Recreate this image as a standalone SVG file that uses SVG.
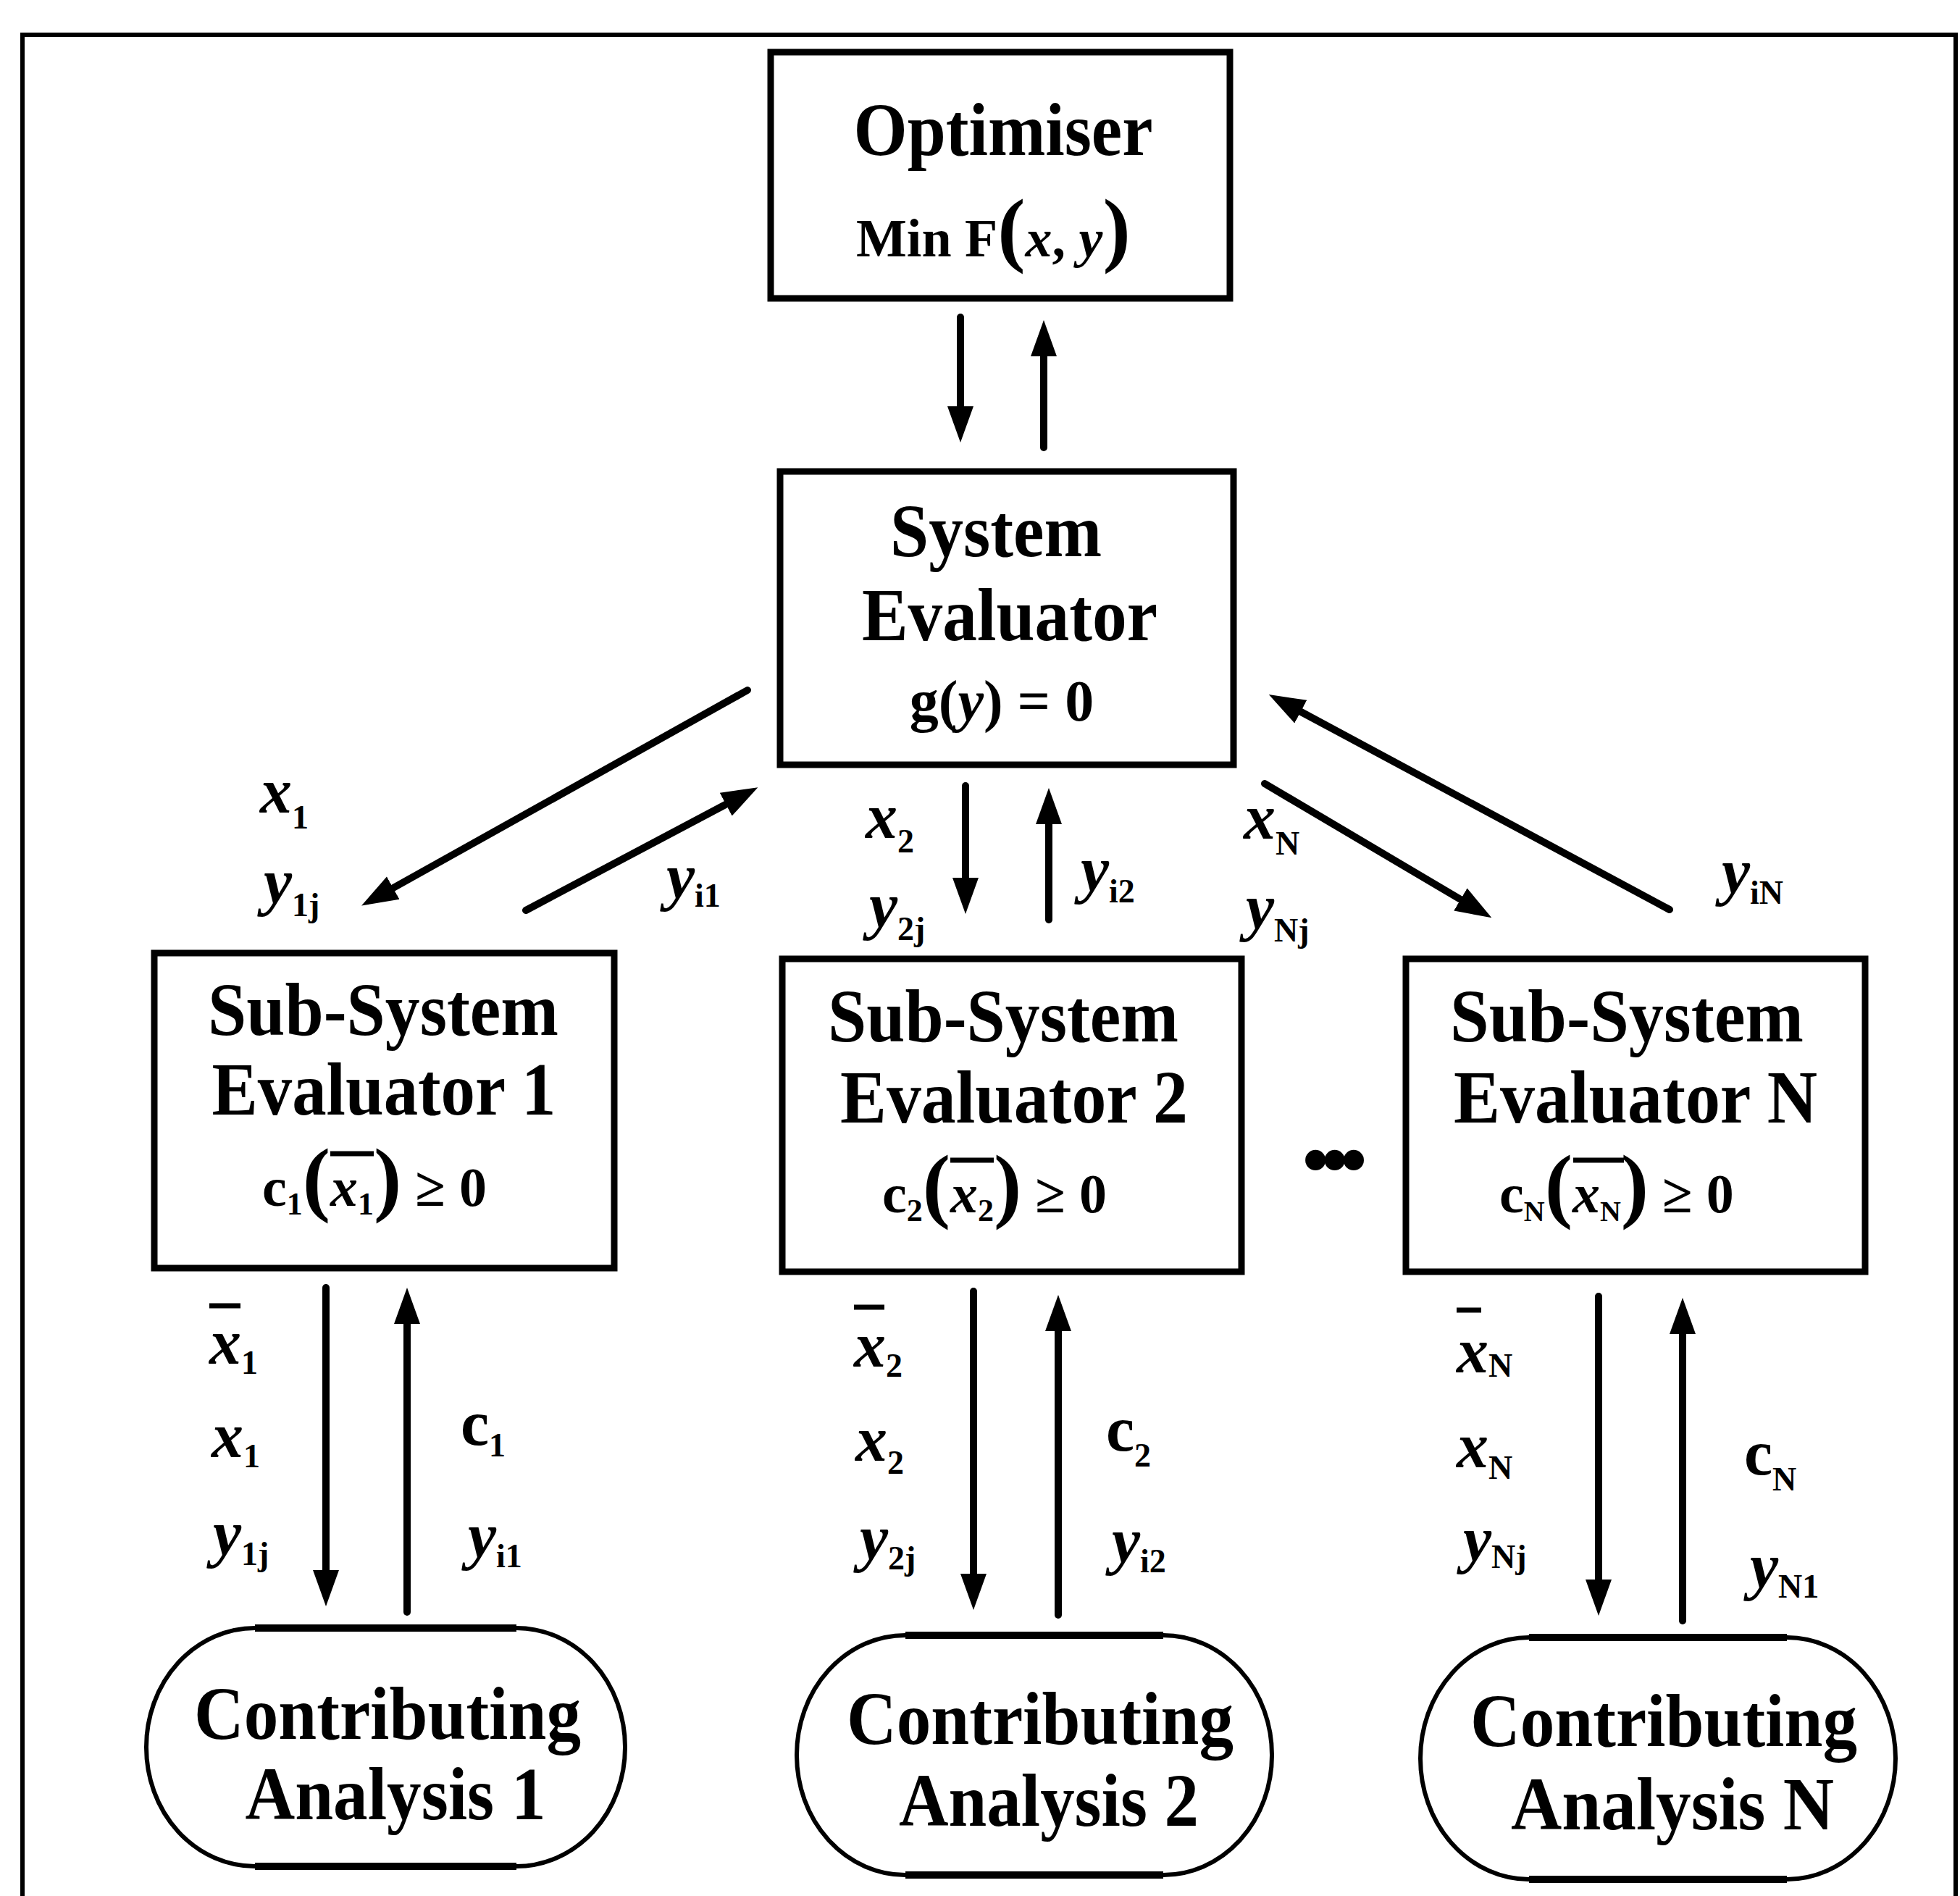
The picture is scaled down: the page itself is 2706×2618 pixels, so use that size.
<svg xmlns="http://www.w3.org/2000/svg" width="2706" height="2618" viewBox="0 0 2706 2618">
<defs>
<style>
.frame{fill:none;stroke:#000;stroke-width:6}
.box{fill:#fff;stroke:#000;stroke-width:9}
.ca{fill:#fff;stroke:#000;stroke-width:6}
.cab{fill:none;stroke:#000;stroke-width:10}
.t{font-family:"Liberation Serif","Times New Roman",serif;font-weight:bold;font-size:104px;text-anchor:middle;fill:#000}
.f{font-family:"Liberation Serif","Times New Roman",serif;font-weight:bold;fill:#000}
.lb{font-family:"Liberation Serif","Times New Roman",serif;font-weight:bold;font-size:88px;fill:#000}
.i{font-style:italic}
.s{font-size:46px;font-style:normal}
.arr{fill:none;stroke:#000;stroke-width:10;stroke-linecap:round;marker-end:url(#ah)}
.bar{fill:none;stroke:#000;stroke-width:7}
</style>
<marker id="ah" markerUnits="userSpaceOnUse" markerWidth="50" markerHeight="40" viewBox="0 0 50 40" refX="10" refY="20" orient="auto">
<path d="M0,2 L50,20 L0,38 z" fill="#000"/>
</marker>
</defs>
<rect width="2706" height="2618" fill="#fff"/>
<path class="frame" d="M31,2640 V48 H2700 V2640"/>

<g id="optimiser">
<rect class="box" x="1064" y="72" width="634" height="340"/>
<text class="t" x="1385" y="214" font-size="100" textLength="413" lengthAdjust="spacingAndGlyphs">Optimiser</text>
<text class="f" x="1182" y="354" font-size="74">Min F<tspan font-size="115">(</tspan><tspan class="i">x</tspan>, <tspan class="i">y</tspan><tspan font-size="115">)</tspan></text>
</g>

<g id="system-evaluator">
<rect class="box" x="1077" y="651" width="626" height="405"/>
<text class="t" x="1375" y="768" textLength="292" lengthAdjust="spacingAndGlyphs">System</text>
<text class="t" x="1394" y="884" textLength="408" lengthAdjust="spacingAndGlyphs">Evaluator</text>
<text class="f" x="1383" y="995" font-size="80" text-anchor="middle">g(<tspan class="i">y</tspan>) = 0</text>
</g>

<g id="sub-system-1">
<rect class="box" x="213" y="1316" width="635" height="435"/>
<text class="t" x="529" y="1429" textLength="484" lengthAdjust="spacingAndGlyphs">Sub-System</text>
<text class="t" x="530" y="1539" textLength="475" lengthAdjust="spacingAndGlyphs">Evaluator 1</text>
<text class="f" x="362" y="1665" font-size="76">c<tspan font-size="44" dy="12">1</tspan><tspan font-size="115" dy="-12">(</tspan><tspan class="i">x</tspan><tspan font-size="44" dy="12">1</tspan><tspan font-size="115" dy="-12">)</tspan> ≥ 0</text>
<path class="bar" d="M456,1593 H516"/>
</g>

<g id="sub-system-2">
<rect class="box" x="1080" y="1324" width="634" height="432"/>
<text class="t" x="1385" y="1438" textLength="484" lengthAdjust="spacingAndGlyphs">Sub-System</text>
<text class="t" x="1400" y="1550" textLength="480" lengthAdjust="spacingAndGlyphs">Evaluator 2</text>
<text class="f" x="1218" y="1674" font-size="76">c<tspan font-size="44" dy="12">2</tspan><tspan font-size="115" dy="-12">(</tspan><tspan class="i">x</tspan><tspan font-size="44" dy="12">2</tspan><tspan font-size="115" dy="-12">)</tspan> ≥ 0</text>
<path class="bar" d="M1312,1602 H1372"/>
</g>

<g id="sub-system-n">
<rect class="box" x="1941" y="1324" width="634" height="432"/>
<text class="t" x="2246" y="1438" textLength="488" lengthAdjust="spacingAndGlyphs">Sub-System</text>
<text class="t" x="2258" y="1550" textLength="502" lengthAdjust="spacingAndGlyphs">Evaluator N</text>
<text class="f" x="2070" y="1674" font-size="76">c<tspan font-size="40" dy="12">N</tspan><tspan font-size="115" dy="-12">(</tspan><tspan class="i">x</tspan><tspan font-size="40" dy="12">N</tspan><tspan font-size="115" dy="-12">)</tspan> ≥ 0</text>
<path class="bar" d="M2172,1602 H2242"/>
</g>

<g id="contributing-1">
<rect class="ca" x="202" y="2248" width="661" height="329" rx="150" ry="164"/>
<path class="cab" d="M352,2248 H713 M352,2577 H713"/>
<text class="t" x="535" y="2401" textLength="534" lengthAdjust="spacingAndGlyphs">Contributing</text>
<text class="t" x="546" y="2512" textLength="415" lengthAdjust="spacingAndGlyphs">Analysis 1</text>
</g>

<g id="contributing-2">
<rect class="ca" x="1100" y="2258" width="656" height="331" rx="150" ry="165"/>
<path class="cab" d="M1250,2258 H1606 M1250,2589 H1606"/>
<text class="t" x="1436" y="2408" textLength="534" lengthAdjust="spacingAndGlyphs">Contributing</text>
<text class="t" x="1448" y="2521" textLength="414" lengthAdjust="spacingAndGlyphs">Analysis 2</text>
</g>

<g id="contributing-n">
<rect class="ca" x="1961" y="2261" width="656" height="334" rx="150" ry="167"/>
<path class="cab" d="M2111,2261 H2467 M2111,2595 H2467"/>
<text class="t" x="2297" y="2411" textLength="534" lengthAdjust="spacingAndGlyphs">Contributing</text>
<text class="t" x="2309" y="2526" textLength="446" lengthAdjust="spacingAndGlyphs">Analysis N</text>
</g>

<g id="ellipsis">
<text class="f" x="1798" y="1636" font-size="104" font-family="Liberation Sans, sans-serif" letter-spacing="-10">•••</text>
</g>

<g id="connectors">
<line class="arr" x1="1326" y1="438" x2="1326" y2="571"/>
<line class="arr" x1="1441" y1="618" x2="1441" y2="482"/>
<line class="arr" x1="1032" y1="953" x2="534" y2="1231"/>
<line class="arr" x1="726" y1="1257" x2="1011" y2="1106"/>
<line class="arr" x1="1333" y1="1085" x2="1333" y2="1222"/>
<line class="arr" x1="1448" y1="1270" x2="1448" y2="1128"/>
<line class="arr" x1="1746" y1="1082" x2="2025" y2="1247"/>
<line class="arr" x1="2305" y1="1256" x2="1787" y2="978"/>
<line class="arr" x1="450" y1="1778" x2="450" y2="2178"/>
<line class="arr" x1="562" y1="2226" x2="562" y2="1818"/>
<line class="arr" x1="1344" y1="1783" x2="1344" y2="2183"/>
<line class="arr" x1="1461" y1="2230" x2="1461" y2="1828"/>
<line class="arr" x1="2207" y1="1790" x2="2207" y2="2191"/>
<line class="arr" x1="2323" y1="2238" x2="2323" y2="1832"/>
</g>

<g id="labels">
<text class="lb" x="359" y="1122"><tspan class="i">x</tspan><tspan class="s" dy="22">1</tspan></text>
<text class="lb" x="364" y="1247"><tspan class="i">y</tspan><tspan class="s" dy="18">1j</tspan></text>
<text class="lb" x="920" y="1240"><tspan class="i">y</tspan><tspan class="s" dy="12">i1</tspan></text>

<text class="lb" x="1195" y="1157"><tspan class="i">x</tspan><tspan class="s" dy="20">2</tspan></text>
<text class="lb" x="1200" y="1280"><tspan class="i">y</tspan><tspan class="s" dy="18">2j</tspan></text>
<text class="lb" x="1492" y="1230"><tspan class="i">y</tspan><tspan class="s" dy="16">i2</tspan></text>

<text class="lb" x="1717" y="1158"><tspan class="i">x</tspan><tspan class="s" dy="22" font-size="40">N</tspan></text>
<text class="lb" x="1720" y="1282"><tspan class="i">y</tspan><tspan class="s" dy="18" font-size="40">Nj</tspan></text>
<text class="lb" x="2377" y="1233"><tspan class="i">y</tspan><tspan class="s" dy="15" font-size="40">iN</tspan></text>

<path class="bar" d="M289,1803 H332"/>
<text class="lb" x="289" y="1883"><tspan class="i">x</tspan><tspan class="s" dy="14">1</tspan></text>
<text class="lb" x="292" y="2012"><tspan class="i">x</tspan><tspan class="s" dy="14">1</tspan></text>
<text class="lb" x="294" y="2147"><tspan class="i">y</tspan><tspan class="s" dy="14">1j</tspan></text>
<text class="lb" x="636" y="1995" font-size="104">c<tspan class="s" dy="16">1</tspan></text>
<text class="lb" x="646" y="2150"><tspan class="i">y</tspan><tspan class="s" dy="14">i1</tspan></text>

<path class="bar" d="M1179,1805 H1221"/>
<text class="lb" x="1179" y="1887"><tspan class="i">x</tspan><tspan class="s" dy="14">2</tspan></text>
<text class="lb" x="1181" y="2017"><tspan class="i">x</tspan><tspan class="s" dy="18">2</tspan></text>
<text class="lb" x="1187" y="2153"><tspan class="i">y</tspan><tspan class="s" dy="14">2j</tspan></text>
<text class="lb" x="1527" y="2003" font-size="104">c<tspan class="s" dy="22">2</tspan></text>
<text class="lb" x="1535" y="2157"><tspan class="i">y</tspan><tspan class="s" dy="14">i2</tspan></text>

<path class="bar" d="M2011,1809 H2045"/>
<text class="lb" x="2011" y="1895"><tspan class="i">x</tspan><tspan class="s" dy="6" font-size="40">N</tspan></text>
<text class="lb" x="2011" y="2026"><tspan class="i">x</tspan><tspan class="s" dy="16" font-size="40">N</tspan></text>
<text class="lb" x="2020" y="2155"><tspan class="i">y</tspan><tspan class="s" dy="10" font-size="40">Nj</tspan></text>
<text class="lb" x="2408" y="2036" font-size="104">c<tspan class="s" dy="22" font-size="44">N</tspan></text>
<text class="lb" x="2416" y="2192"><tspan class="i">y</tspan><tspan class="s" dy="14" font-size="40">N1</tspan></text>
</g>
</svg>
